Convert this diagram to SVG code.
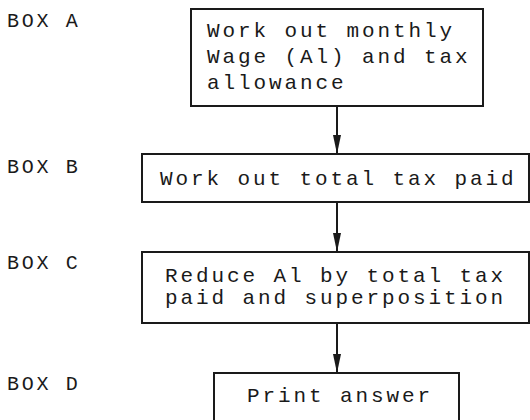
<svg xmlns="http://www.w3.org/2000/svg" width="530" height="420" viewBox="0 0 530 420">
<style>
  .bg { fill: #ffffff; }
  .box { fill: #ffffff; stroke: #1a1a1a; stroke-width: 2; }
  .t { font-family: "Liberation Mono", "Courier New", monospace; font-size: 21px; letter-spacing: 2.9px; fill: #1a1a1a; }
  .lbl { font-family: "Liberation Mono", "Courier New", monospace; font-size: 20px; letter-spacing: 2.7px; fill: #1a1a1a; }
  .conn { stroke: #1a1a1a; stroke-width: 2; fill: none; }
</style>
<defs>
  <marker id="arrow" markerUnits="userSpaceOnUse" markerWidth="20" markerHeight="10" refX="19" refY="5" orient="auto" viewBox="0 0 20 10">
    <path d="M0,1 L19,5 L0,9 Z" fill="#1a1a1a"/>
  </marker>
</defs>
<rect class="bg" x="0" y="0" width="530" height="420"/>

<g id="labels">
  <text class="lbl" x="7" y="27">BOX A</text>
  <text class="lbl" x="7" y="173">BOX B</text>
  <text class="lbl" x="7" y="269">BOX C</text>
  <text class="lbl" x="7" y="390">BOX D</text>
</g>

<g id="connectors">
  <line class="conn" x1="337" y1="106" x2="337" y2="154" marker-end="url(#arrow)"/>
  <line class="conn" x1="337" y1="202" x2="337" y2="252" marker-end="url(#arrow)"/>
  <line class="conn" x1="337" y1="323" x2="337" y2="373" marker-end="url(#arrow)"/>
</g>

<g id="boxA">
  <rect class="box" x="191" y="9" width="292" height="97"/>
  <text class="t" x="207" y="37">Work out monthly</text>
  <text class="t" x="207" y="63">Wage (Al) and tax</text>
  <text class="t" x="207" y="89">allowance</text>
</g>

<g id="boxB">
  <rect class="box" x="142" y="154" width="387" height="48"/>
  <text class="t" x="160" y="185">Work out total tax paid</text>
</g>

<g id="boxC">
  <rect class="box" x="142" y="252" width="387" height="71"/>
  <text class="t" x="165" y="282">Reduce Al by total tax</text>
  <text class="t" x="165" y="304">paid and superposition</text>
</g>

<g id="boxD">
  <rect class="box" x="214" y="373" width="245" height="60"/>
  <text class="t" x="247" y="402">Print answer</text>
</g>
</svg>
